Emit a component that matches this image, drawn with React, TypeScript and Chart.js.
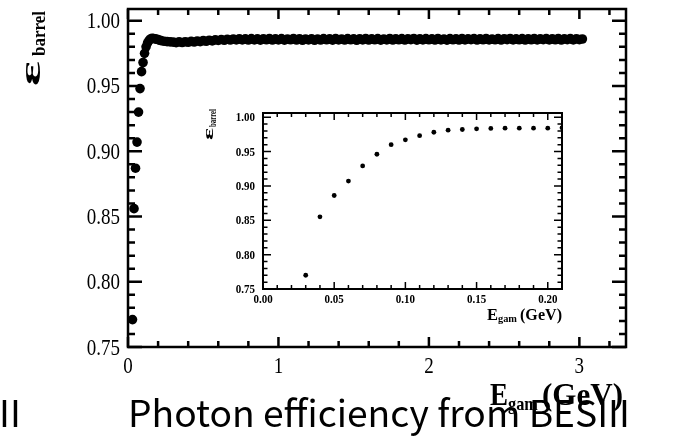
import React, { useEffect, useRef } from "react";
import { Chart, registerables } from "chart.js";
Chart.register(...registerables);

const W = 676;
const H = 441;
const SERIF = "'Liberation Serif', 'Times New Roman', serif";
const SANS = "'Noto Sans CJK SC', 'Noto Sans', sans-serif";

// ---------------- data ----------------
const mainEnergy = [
  0.03, 0.04, 0.05, 0.06, 0.07, 0.08, 0.09, 0.10, 0.11, 0.12,
  0.13, 0.14, 0.15, 0.16, 0.17, 0.18, 0.19, 0.20, 0.21,
  0.22, 0.24, 0.26, 0.28, 0.30, 0.32, 0.34, 0.36, 0.38, 0.40,
  0.42, 0.44, 0.46, 0.48, 0.50, 0.52, 0.54, 0.56, 0.58, 0.60,
  0.62, 0.64, 0.66, 0.68, 0.70, 0.72, 0.74, 0.76, 0.78, 0.80,
  0.82, 0.84, 0.86, 0.88, 0.90, 0.92, 0.94, 0.96, 0.98, 1.00,
  1.02, 1.04, 1.06, 1.08, 1.10, 1.12, 1.14, 1.16, 1.18, 1.20,
  1.22, 1.24, 1.26, 1.28, 1.30, 1.32, 1.34, 1.36, 1.38, 1.40,
  1.42, 1.44, 1.46, 1.48, 1.50, 1.52, 1.54, 1.56, 1.58, 1.60,
  1.62, 1.64, 1.66, 1.68, 1.70, 1.72, 1.74, 1.76, 1.78, 1.80,
  1.82, 1.84, 1.86, 1.88, 1.90, 1.92, 1.94, 1.96, 1.98, 2.00,
  2.02, 2.04, 2.06, 2.08, 2.10, 2.12, 2.14, 2.16, 2.18, 2.20,
  2.22, 2.24, 2.26, 2.28, 2.30, 2.32, 2.34, 2.36, 2.38, 2.40,
  2.42, 2.44, 2.46, 2.48, 2.50, 2.52, 2.54, 2.56, 2.58, 2.60,
  2.62, 2.64, 2.66, 2.68, 2.70, 2.72, 2.74, 2.76, 2.78, 2.80,
  2.82, 2.84, 2.86, 2.88, 2.90, 2.92, 2.94, 2.96, 2.98, 3.00,
  3.02,
];
const mainEff = [
  0.771, 0.856, 0.887, 0.907, 0.930, 0.948, 0.961, 0.968, 0.975, 0.980,
  0.983, 0.985, 0.986, 0.9866, 0.9864, 0.9862, 0.9858, 0.9855, 0.9851,
  0.9848, 0.9843, 0.9840, 0.9838, 0.9836, 0.9832, 0.9838, 0.9833, 0.9839, 0.9835,
  0.9842, 0.9837, 0.9845, 0.9840, 0.9848, 0.9843, 0.9851, 0.9846, 0.9854, 0.9849,
  0.9856, 0.9850, 0.9858, 0.9852, 0.9860, 0.9853, 0.9862, 0.9853, 0.9861, 0.9852,
  0.9863, 0.9853, 0.9861, 0.9851, 0.9862, 0.9854, 0.9864, 0.9852, 0.9861, 0.9853,
  0.9863, 0.9851, 0.9860, 0.9854, 0.9864, 0.9852, 0.9862, 0.9850, 0.9860, 0.9853,
  0.9862, 0.9850, 0.9859, 0.9852, 0.9863, 0.9854, 0.9861, 0.9851, 0.9864, 0.9853,
  0.9860, 0.9852, 0.9863, 0.9854, 0.9861, 0.9850, 0.9862, 0.9853, 0.9864, 0.9852,
  0.9861, 0.9854, 0.9863, 0.9851, 0.9860, 0.9853, 0.9864, 0.9852, 0.9862, 0.9854,
  0.9863, 0.9852, 0.9861, 0.9855, 0.9864, 0.9851, 0.9862, 0.9853, 0.9863, 0.9854,
  0.9861, 0.9852, 0.9864, 0.9853, 0.9860, 0.9851, 0.9863, 0.9854, 0.9862, 0.9852,
  0.9864, 0.9853, 0.9861, 0.9855, 0.9863, 0.9852, 0.9862, 0.9854, 0.9864, 0.9853,
  0.9860, 0.9854, 0.9863, 0.9852, 0.9862, 0.9855, 0.9864, 0.9853, 0.9861, 0.9854,
  0.9863, 0.9852, 0.9862, 0.9854, 0.9864, 0.9853, 0.9861, 0.9855, 0.9863, 0.9853,
  0.9862, 0.9854, 0.9864, 0.9852, 0.9861, 0.9855, 0.9863, 0.9853, 0.9862, 0.9855,
  0.9860,
];

const insetEnergy = [
  0.03, 0.04, 0.05, 0.06, 0.07, 0.08, 0.09, 0.10, 0.11, 0.12,
  0.13, 0.14, 0.15, 0.16, 0.17, 0.18, 0.19, 0.20, 0.21,
];
const insetEff = [
  0.770, 0.855, 0.886, 0.907, 0.929, 0.946, 0.960, 0.967, 0.973, 0.978,
  0.981, 0.982, 0.983, 0.9835, 0.984, 0.984, 0.984, 0.984, 0.9845,
];

const mainXTicks = [0, 1, 2, 3];
const mainYTicks = [0.75, 0.8, 0.85, 0.9, 0.95, 1.0];
const insetXTicks = [0.0, 0.05, 0.1, 0.15, 0.2];
const insetYTicks = [0.75, 0.8, 0.85, 0.9, 0.95, 1.0];

const Y_SYMBOL = "ε";
const Y_SUB = "barrel";
const X_MAIN = "E";
const X_SUB = "gam";
const X_UNIT = "(GeV)";
const CAPTION = "Photon efficiency from BESIII";
const LEFT_FRAGMENT = "II";

// ---------------- helpers ----------------
type Area = { left: number; top: number; right: number; bottom: number };
type TickStyle = {
  xMinor: number; yMinor: number;
  xMajorLen: number; xMinorLen: number;
  yMajorLen: number; yMinorLen: number;
  frameWidth: number; tickWidth: number;
  labelFont: string; labelStretch: number;
  xLabelBaseline: number; // offset below chart bottom
  yLabelGap: number; // gap left of chart left
  yLabelShift: number; // baseline shift below tick
  xFmt: (v: number) => string; yFmt: (v: number) => string;
};

function isMajor(v: number, majors: number[]) {
  return majors.some((m) => Math.abs(m - v) < 1e-6);
}

function stretchedText(ctx: any, text: string, x: number, y: number, sy: number) {
  ctx.save();
  ctx.translate(x, y);
  ctx.scale(1, sy);
  ctx.fillText(text, 0, 0);
  ctx.restore();
}

function framePlugin(id: string, ts: TickStyle) {
  return {
    id,
    afterDraw(chart: any) {
      const { ctx, chartArea: a } = chart;
      const xs = chart.scales.x;
      const ys = chart.scales.y;
      const majorX = xs.ticks.map((t: any) => t.value);
      const majorY = ys.ticks.map((t: any) => t.value);
      ctx.save();
      ctx.strokeStyle = "#000";
      ctx.fillStyle = "#000";
      ctx.lineWidth = ts.tickWidth;
      ctx.beginPath();
      for (let k = Math.ceil(xs.min / ts.xMinor - 1e-6); k * ts.xMinor <= xs.max + 1e-9; k++) {
        const v = k * ts.xMinor;
        const px = xs.getPixelForValue(v);
        const len = isMajor(v, majorX) ? ts.xMajorLen : ts.xMinorLen;
        ctx.moveTo(px, a.bottom); ctx.lineTo(px, a.bottom - len);
        ctx.moveTo(px, a.top); ctx.lineTo(px, a.top + len);
      }
      for (let k = Math.ceil(ys.min / ts.yMinor - 1e-6); k * ts.yMinor <= ys.max + 1e-9; k++) {
        const v = k * ts.yMinor;
        const py = ys.getPixelForValue(v);
        const len = isMajor(v, majorY) ? ts.yMajorLen : ts.yMinorLen;
        ctx.moveTo(a.left, py); ctx.lineTo(a.left + len, py);
        ctx.moveTo(a.right, py); ctx.lineTo(a.right - len, py);
      }
      ctx.stroke();
      ctx.lineWidth = ts.frameWidth;
      ctx.strokeRect(a.left, a.top, a.right - a.left, a.bottom - a.top);

      // tick labels from the scales' ticks
      ctx.font = ts.labelFont;
      ctx.textBaseline = "alphabetic";
      ctx.textAlign = "center";
      xs.ticks.forEach((t: any) => {
        stretchedText(ctx, ts.xFmt(t.value), xs.getPixelForValue(t.value), a.bottom + ts.xLabelBaseline, ts.labelStretch);
      });
      ctx.textAlign = "right";
      ys.ticks.forEach((t: any) => {
        stretchedText(ctx, ts.yFmt(t.value), a.left - ts.yLabelGap, ys.getPixelForValue(t.value) + ts.yLabelShift, ts.labelStretch);
      });
      ctx.restore();
    },
  };
}

// draws text so that its advance spans exactly `len` pixels
function fitText(ctx: any, text: string, font: string, x: number, y: number, len: number) {
  ctx.save();
  ctx.font = font;
  const w = ctx.measureText(text).width;
  ctx.translate(x, y);
  ctx.scale(len / w, 1);
  ctx.fillText(text, 0, 0);
  ctx.restore();
}

type VTitle = {
  baseX: number; startY: number; symPx: number; symLen: number;
  gap: number; subPx: number; subLen: number; subShift: number;
};
function drawVerticalTitle(ctx: any, t: VTitle) {
  ctx.save();
  ctx.translate(t.baseX, t.startY);
  ctx.rotate(-Math.PI / 2);
  ctx.textAlign = "left";
  ctx.textBaseline = "alphabetic";
  fitText(ctx, Y_SYMBOL, `bold ${t.symPx}px ${SERIF}`, 0, 0, t.symLen);
  fitText(ctx, Y_SUB, `bold ${t.subPx}px ${SERIF}`, t.symLen + t.gap, t.subShift, t.subLen);
  ctx.restore();
}

type HTitle = {
  eX: number; eLen: number; baseY: number; bigPx: number;
  subX: number; subLen: number; subPx: number; subY: number;
  unitX: number; unitLen: number;
};
function drawHorizontalTitle(ctx: any, t: HTitle) {
  ctx.save();
  ctx.textAlign = "left";
  ctx.textBaseline = "alphabetic";
  fitText(ctx, X_MAIN, `bold ${t.bigPx}px ${SERIF}`, t.eX, t.baseY, t.eLen);
  fitText(ctx, X_SUB, `bold ${t.subPx}px ${SERIF}`, t.subX, t.subY, t.subLen);
  fitText(ctx, X_UNIT, `bold ${t.bigPx}px ${SERIF}`, t.unitX, t.baseY, t.unitLen);
  ctx.restore();
}

const mainTextPlugin = {
  id: "mainTexts",
  afterDraw(chart: any) {
    const ctx = chart.ctx;
    ctx.save();
    ctx.fillStyle = "#000";
    ctx.textBaseline = "alphabetic";
    ctx.textAlign = "left";
    ctx.font = `34px ${SANS}`;
    const mw = ctx.measureText(CAPTION).width;
    const size = (34 * 502) / mw;
    ctx.font = `${size.toFixed(2)}px ${SANS}`;
    ctx.fillText(CAPTION, 128, 427);
    ctx.fillText(LEFT_FRAGMENT, -1, 427);
    drawVerticalTitle(ctx, {
      baseX: 40, startY: 86, symPx: 30, symLen: 25, gap: 5,
      subPx: 19, subLen: 45, subShift: 5,
    });
    drawHorizontalTitle(ctx, {
      eX: 490, eLen: 18, baseY: 405, bigPx: 32,
      subX: 508, subLen: 30, subPx: 19, subY: 410,
      unitX: 542, unitLen: 81,
    });
    ctx.restore();
  },
};

const insetTextPlugin = {
  id: "insetTexts",
  afterDraw(chart: any) {
    const ctx = chart.ctx;
    ctx.save();
    ctx.fillStyle = "#000";
    drawVerticalTitle(ctx, {
      baseX: 213, startY: 140, symPx: 15, symLen: 12, gap: 1,
      subPx: 10, subLen: 18, subShift: 3,
    });
    drawHorizontalTitle(ctx, {
      eX: 487, eLen: 11, baseY: 320, bigPx: 17,
      subX: 498, subLen: 19, subPx: 11, subY: 322,
      unitX: 520, unitLen: 42,
    });
    ctx.restore();
  },
};

function buildConfig(o: {
  area: Area; xMin: number; xMax: number; yMin: number; yMax: number;
  xTicks: number[]; yTicks: number[];
  xs: number[]; ys: number[]; radius: number; plugins: any[];
}) {
  const { area } = o;
  const zeroPad = (s: any) => {
    s.paddingLeft = 0; s.paddingRight = 0; s.paddingTop = 0; s.paddingBottom = 0;
  };
  return {
    type: "scatter" as const,
    data: {
      datasets: [
        {
          data: o.xs.map((x, i) => ({ x, y: o.ys[i] })),
          pointRadius: o.radius,
          pointHoverRadius: o.radius,
          pointBorderWidth: 0,
          pointBackgroundColor: "#000",
          pointBorderColor: "#000",
          showLine: false,
        },
      ],
    },
    options: {
      responsive: false,
      maintainAspectRatio: false,
      animation: false as const,
      devicePixelRatio: 1,
      events: [],
      layout: { padding: { left: 0, top: area.top, right: W - area.right, bottom: 0 } },
      plugins: { legend: { display: false }, tooltip: { enabled: false }, title: { display: false } },
      scales: {
        x: {
          type: "linear" as const,
          position: "bottom" as const,
          min: o.xMin,
          max: o.xMax,
          grid: { display: false },
          border: { display: false },
          afterBuildTicks: (s: any) => { s.ticks = o.xTicks.map((v) => ({ value: v })); },
          afterFit: (s: any) => { s.height = H - area.bottom; zeroPad(s); },
          ticks: { display: false, autoSkip: false, maxRotation: 0, minRotation: 0 },
        },
        y: {
          type: "linear" as const,
          position: "left" as const,
          min: o.yMin,
          max: o.yMax,
          grid: { display: false },
          border: { display: false },
          afterBuildTicks: (s: any) => { s.ticks = o.yTicks.map((v) => ({ value: v })); },
          afterFit: (s: any) => { s.width = area.left; zeroPad(s); },
          ticks: { display: false, autoSkip: false },
        },
      },
    },
    plugins: o.plugins,
  };
}

export default function App() {
  const mainRef = useRef<HTMLCanvasElement>(null);
  const insetRef = useRef<HTMLCanvasElement>(null);

  useEffect(() => {
    const mainChart = new Chart(
      mainRef.current as HTMLCanvasElement,
      buildConfig({
        area: { left: 128, top: 9, right: 626, bottom: 347 },
        xMin: 0, xMax: 3.31, yMin: 0.75, yMax: 1.009,
        xTicks: mainXTicks, yTicks: mainYTicks,
        xs: mainEnergy, ys: mainEff, radius: 4.8,
        plugins: [
          framePlugin("mainFrame", {
            xMinor: 0.2, yMinor: 0.01, xMajorLen: 10, xMinorLen: 6,
            yMajorLen: 14, yMinorLen: 7, frameWidth: 2.5, tickWidth: 2.5,
            labelFont: `19px ${SERIF}`, labelStretch: 1.2,
            xLabelBaseline: 26, yLabelGap: 8, yLabelShift: 7.5,
            xFmt: (v) => v.toFixed(0), yFmt: (v) => v.toFixed(2),
          }),
          mainTextPlugin,
        ],
      }) as any
    );
    const insetChart = new Chart(
      insetRef.current as HTMLCanvasElement,
      buildConfig({
        area: { left: 263, top: 113, right: 562, bottom: 289 },
        xMin: 0, xMax: 0.21, yMin: 0.75, yMax: 1.006,
        xTicks: insetXTicks, yTicks: insetYTicks,
        xs: insetEnergy, ys: insetEff, radius: 2.4,
        plugins: [
          framePlugin("insetFrame", {
            xMinor: 0.01, yMinor: 0.01, xMajorLen: 7, xMinorLen: 4,
            yMajorLen: 8, yMinorLen: 4.5, frameWidth: 2, tickWidth: 1.5,
            labelFont: `bold 11px ${SERIF}`, labelStretch: 1.12,
            xLabelBaseline: 14, yLabelGap: 8, yLabelShift: 4,
            xFmt: (v) => v.toFixed(2), yFmt: (v) => v.toFixed(2),
          }),
          insetTextPlugin,
        ],
      }) as any
    );
    return () => {
      mainChart.destroy();
      insetChart.destroy();
    };
  }, []);

  return (
    <div style={{ position: "absolute", left: 0, top: 0, width: W, height: H, background: "#fff", overflow: "hidden" }}>
      <canvas ref={mainRef} width={W} height={H} style={{ position: "absolute", left: 0, top: 0, width: W, height: H }} />
      <canvas ref={insetRef} width={W} height={H} style={{ position: "absolute", left: 0, top: 0, width: W, height: H }} />
    </div>
  );
}
